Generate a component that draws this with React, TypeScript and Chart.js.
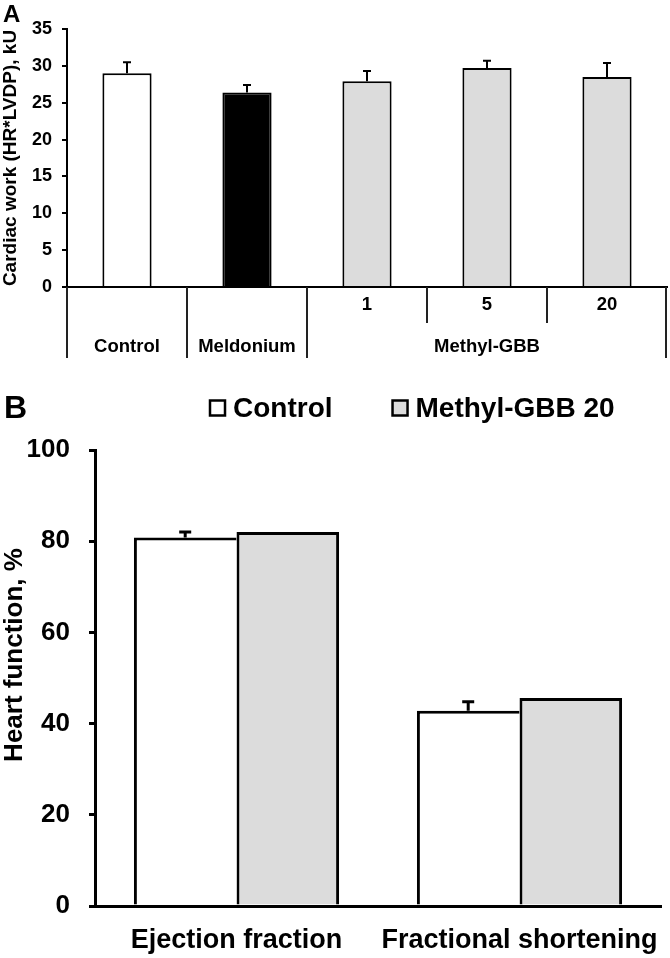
import React, { useEffect, useRef } from 'react';
import { Chart, registerables } from 'chart.js';

Chart.register(...registerables);

const FONT = '"Liberation Sans", Arial, Helvetica, sans-serif';

// ---------- Panel A data ----------
const categoriesA = ['Control', 'Meldonium', 'Methyl-GBB 1', 'Methyl-GBB 5', 'Methyl-GBB 20'];
const doseLabelsA = ['', '', '1', '5', '20'];
const groupLabelsA = ['Control', 'Meldonium', 'Methyl-GBB'];
const groupIndexA = [0, 1, 2, 2, 2];
const cardiacWork = [29.0, 26.4, 27.9, 29.7, 28.5];
const cardiacWorkSEM = [1.5, 1.0, 1.4, 1.0, 1.9];
const barFillsA = ['#ffffff', '#000000', '#dcdcdc', '#dcdcdc', '#dcdcdc'];
const yMinA = 0;
const yMaxA = 35;
const yStepA = 5;

// ---------- Panel B data ----------
const categoriesB = ['Ejection fraction', 'Fractional shortening'];
const seriesNamesB = ['Control', 'Methyl-GBB 20'];
const controlB = [80.8, 42.8];
const controlSEMB = [1.2, 2.0];
const methylB = [82.0, 45.6];
const methylSEMB = [0, 0];
const seriesFillsB = ['#ffffff', '#dcdcdc'];
const yTitleB = 'Heart function, %';
const yMinB = 0;
const yMaxB = 100;
const yStepB = 20;

// ---------- Plugins ----------
const errorBarPlugin = {
  id: 'errorBars',
  afterDatasetsDraw(chart: any, _args: any, opts: any) {
    const ctx = chart.ctx;
    const y = chart.scales.y;
    chart.data.datasets.forEach((ds: any, di: number) => {
      const errs = ds.errorBars;
      if (!errs) return;
      const meta = chart.getDatasetMeta(di);
      meta.data.forEach((el: any, i: number) => {
        const e = errs[i];
        if (!e) return;
        const v = ds.data[i];
        const yTop = y.getPixelForValue(v + e);
        ctx.save();
        ctx.strokeStyle = '#000';
        ctx.lineWidth = opts.width;
        ctx.beginPath();
        ctx.moveTo(el.x, el.y);
        ctx.lineTo(el.x, yTop);
        ctx.moveTo(el.x - opts.cap / 2, yTop);
        ctx.lineTo(el.x + opts.cap / 2, yTop);
        ctx.stroke();
        ctx.restore();
      });
    });
  },
};

const groupAxisPlugin = {
  id: 'groupAxis',
  afterDraw(chart: any, _args: any, opts: any) {
    const ctx = chart.ctx;
    const area = chart.chartArea;
    const x = chart.scales.x;
    const n = chart.data.labels.length;
    const step = x.getPixelForValue(1) - x.getPixelForValue(0);
    const edge = (i: number) => x.getPixelForValue(0) + (i - 0.5) * step;
    ctx.save();
    ctx.strokeStyle = opts.lineColor;
    ctx.lineWidth = opts.lineWidth;
    for (let i = 0; i <= n; i++) {
      const long = i === 0 || i === n || groupIndexA[i] !== groupIndexA[i - 1];
      const len = long ? opts.longLen : opts.shortLen;
      const px = Math.round(edge(i)) + (i === n ? -1 : 0);
      ctx.beginPath();
      ctx.moveTo(px, area.bottom);
      ctx.lineTo(px, area.bottom + len);
      ctx.stroke();
    }
    ctx.fillStyle = '#000';
    ctx.font = `bold ${opts.fontSize}px ${FONT}`;
    ctx.textAlign = 'center';
    ctx.textBaseline = 'middle';
    for (let i = 0; i < n; i++) {
      if (doseLabelsA[i]) ctx.fillText(doseLabelsA[i], x.getPixelForValue(i), area.bottom + opts.doseOffset);
    }
    groupLabelsA.forEach((g, gi) => {
      const idx = groupIndexA.map((v, i) => (v === gi ? i : -1)).filter((i) => i >= 0);
      const cx = (edge(idx[0]) + edge(idx[idx.length - 1] + 1)) / 2;
      ctx.fillText(g, cx, area.bottom + opts.groupOffset);
    });
    ctx.restore();
  },
};

const boxLegendPlugin = {
  id: 'boxLegend',
  afterDraw(chart: any, _args: any, opts: any) {
    const ctx = chart.ctx;
    ctx.save();
    ctx.font = `bold ${opts.fontSize}px ${FONT}`;
    ctx.textBaseline = 'middle';
    ctx.textAlign = 'left';
    let x = opts.x;
    chart.data.datasets.forEach((ds: any) => {
      const b = opts.box;
      ctx.fillStyle = ds.backgroundColor;
      ctx.fillRect(x, opts.y - b / 2, b, b);
      ctx.strokeStyle = '#000';
      ctx.lineWidth = opts.lineWidth;
      ctx.strokeRect(x, opts.y - b / 2, b, b);
      ctx.fillStyle = '#000';
      const tx = x + b + opts.textGap;
      ctx.fillText(ds.label, tx, opts.y + 1);
      x = tx + ctx.measureText(ds.label).width + opts.itemGap;
    });
    ctx.restore();
  },
};

// rotated y-axis title placed relative to the chart area (centre shifted as in the original figure)
const sideTitlePlugin = {
  id: 'sideTitle',
  afterDraw(chart: any, _args: any, opts: any) {
    const ctx = chart.ctx;
    const area = chart.chartArea;
    ctx.save();
    ctx.translate(opts.x, (area.top + area.bottom) / 2 + opts.shift);
    ctx.rotate(-Math.PI / 2);
    ctx.font = `bold ${opts.fontSize}px ${FONT}`;
    ctx.fillStyle = '#000';
    ctx.textAlign = 'center';
    ctx.textBaseline = 'middle';
    ctx.fillText(opts.text, 0, 0);
    ctx.restore();
  },
};

function ChartCanvas({ width, height, top, makeConfig }: any) {
  const ref = useRef<HTMLCanvasElement | null>(null);
  useEffect(() => {
    if (!ref.current) return;
    const chart = new Chart(ref.current, makeConfig());
    return () => chart.destroy();
  }, []);
  return (
    <canvas
      ref={ref}
      width={width}
      height={height}
      style={{ position: 'absolute', left: 0, top, width, height, display: 'block' }}
    />
  );
}

const configA = (): any => ({
  type: 'bar',
  data: {
    labels: categoriesA,
    datasets: [
      {
        label: 'Cardiac work',
        data: cardiacWork,
        errorBars: cardiacWorkSEM,
        backgroundColor: barFillsA,
        borderColor: '#000',
        borderWidth: 2,
        barPercentage: 0.41,
        categoryPercentage: 1,
      },
    ],
  },
  plugins: [errorBarPlugin, groupAxisPlugin],
  options: {
    responsive: false,
    animation: false,
    devicePixelRatio: 1,
    layout: { padding: { left: 3, right: 3, top: 0, bottom: 0 } },
    plugins: {
      legend: { display: false },
      tooltip: { enabled: false },
      title: {
        display: true,
        text: 'A',
        align: 'start',
        color: '#000',
        font: { family: FONT, size: 24, weight: 'bold', lineHeight: 1 },
        padding: { top: 3, bottom: 2 },
      },
      errorBars: { width: 2, cap: 8 },
      groupAxis: {
        lineColor: '#222',
        lineWidth: 2,
        longLen: 71,
        shortLen: 36,
        doseOffset: 18,
        groupOffset: 60,
        fontSize: 18.5,
      },
    },
    scales: {
      x: {
        ticks: { display: false },
        grid: { display: false, drawTicks: false },
        border: { display: true, color: '#000', width: 2 },
        afterFit: (s: any) => {
          s.height = 83;
        },
      },
      y: {
        min: yMinA,
        max: yMaxA,
        ticks: {
          stepSize: yStepA,
          color: '#000',
          padding: 10,
          font: { family: FONT, size: 18, weight: 'bold' },
        },
        grid: { drawOnChartArea: false, drawTicks: true, tickLength: 5, color: '#000', lineWidth: 2 },
        border: { display: true, color: '#000', width: 2 },
        title: {
          display: true,
          text: 'Cardiac work (HR*LVDP), kU',
          color: '#000',
          font: { family: FONT, size: 19, weight: 'bold', lineHeight: 1 },
          padding: { top: -2, bottom: 0 },
        },
        afterFit: (s: any) => {
          s.width = 64;
        },
      },
    },
  },
});

const configB = (): any => ({
  type: 'bar',
  data: {
    labels: categoriesB,
    datasets: [
      {
        label: seriesNamesB[0],
        data: controlB,
        errorBars: controlSEMB,
        backgroundColor: seriesFillsB[0],
        borderColor: '#000',
        borderWidth: { top: 3, left: 3, right: 0, bottom: 0 },
        barPercentage: 1,
        categoryPercentage: 0.725,
      },
      {
        label: seriesNamesB[1],
        data: methylB,
        errorBars: methylSEMB,
        backgroundColor: seriesFillsB[1],
        borderColor: '#000',
        borderWidth: { top: 3, left: 3, right: 3, bottom: 0 },
        barPercentage: 1,
        categoryPercentage: 0.725,
      },
    ],
  },
  plugins: [errorBarPlugin, boxLegendPlugin, sideTitlePlugin],
  options: {
    responsive: false,
    animation: false,
    devicePixelRatio: 1,
    layout: { padding: { left: 4, right: 9, top: 0, bottom: 0 } },
    plugins: {
      legend: { display: false },
      tooltip: { enabled: false },
      title: {
        display: true,
        text: 'B',
        align: 'start',
        color: '#000',
        font: { family: FONT, size: 32, weight: 'bold', lineHeight: 1 },
        padding: { top: 23, bottom: 25 },
      },
      errorBars: { width: 3, cap: 12 },
      boxLegend: { x: 210, y: 38, box: 15, textGap: 8, itemGap: 60, fontSize: 28, lineWidth: 2.5 },
      sideTitle: { text: yTitleB, x: 15, shift: -23, fontSize: 26 },
    },
    scales: {
      x: {
        ticks: {
          color: '#000',
          padding: 18,
          maxRotation: 0,
          autoSkip: false,
          font: { family: FONT, size: 27, weight: 'bold' },
        },
        grid: { display: false, drawTicks: false },
        border: { display: true, color: '#000', width: 3 },
        afterFit: (s: any) => {
          s.height = 52;
          s.paddingLeft = 0;
          s.paddingRight = 0;
        },
      },
      y: {
        min: yMinB,
        max: yMaxB,
        ticks: {
          stepSize: yStepB,
          color: '#000',
          padding: 19,
          font: { family: FONT, size: 26, weight: 'bold' },
        },
        grid: { drawOnChartArea: false, drawTicks: true, tickLength: 6, color: '#000', lineWidth: 3 },
        border: { display: true, color: '#000', width: 3 },
        title: { display: false },
        afterFit: (s: any) => {
          s.width = 91;
        },
      },
    },
  },
});

export default function App() {
  return (
    <div style={{ position: 'absolute', left: 0, top: 0, width: 670, height: 958, background: '#fff' }}>
      <ChartCanvas width={670} height={370} top={0} makeConfig={configA} />
      <ChartCanvas width={670} height={588} top={370} makeConfig={configB} />
    </div>
  );
}
